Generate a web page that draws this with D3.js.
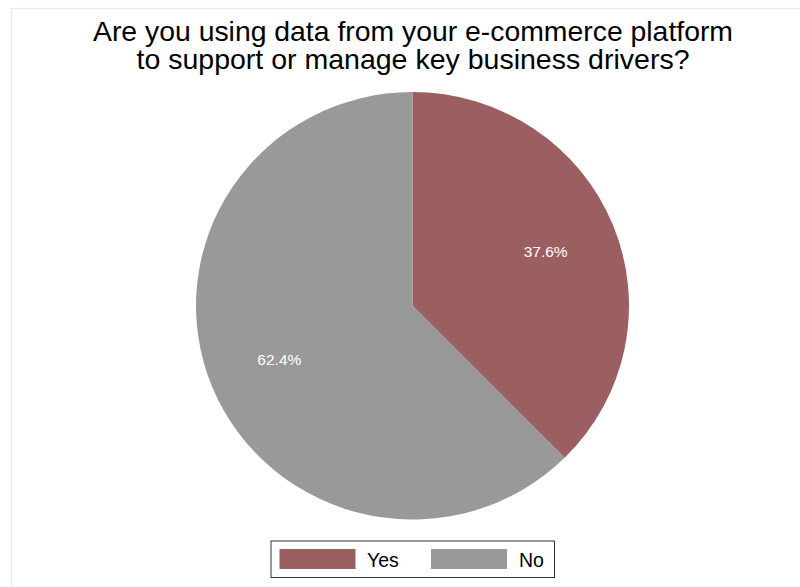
<!DOCTYPE html>
<html>
<head>
<meta charset="utf-8">
<script src="https://cdn.jsdelivr.net/npm/d3@7"></script>
<style>
  html, body { margin: 0; padding: 0; background: #fff; }
  svg { display: block; font-family: "Liberation Sans", Arial, Helvetica, sans-serif; }
</style>
</head>
<body>
<svg id="chart" width="800" height="587"></svg>
<script>
// Survey answers and their shares (percent)
const categories = ["Yes", "No"];
const shares = [37.6, 62.4];
const colors = ["#9c5f61", "#999999"];
const titleLines = [
  "Are you using data from your e-commerce platform",
  "to support or manage key business drivers?"
];

const svg = d3.select("#chart");

// thin outer frame of the graph region
svg.append("rect")
  .attr("x", 11.5).attr("y", 8.5)
  .attr("width", 800).attr("height", 600)
  .attr("fill", "none")
  .attr("stroke", "#e6eded")
  .attr("stroke-width", 1.2);

// title: two centred lines, set slightly wide to fill the header
const titleWidths = [640, 553];
svg.append("g").selectAll("text")
  .data(titleLines)
  .join("text")
  .attr("x", 413)
  .attr("y", (d, i) => 40.5 + i * 28.3)
  .attr("text-anchor", "middle")
  .attr("font-size", 27.8)
  .attr("textLength", (d, i) => titleWidths[i])
  .attr("lengthAdjust", "spacingAndGlyphs")
  .attr("fill", "#000")
  .text(d => d);

// pie
const cx = 412.5, cy = 305.75, rx = 216.5, ry = 213.75;
const data = categories.map((c, i) => ({ cat: c, value: shares[i], color: colors[i] }));
const pie = d3.pie().value(d => d.value).sort(null);
const arcs = pie(data);
const R = 100;
const arc = d3.arc().innerRadius(0).outerRadius(R);
const labelArc = d3.arc().innerRadius(R * 0.665).outerRadius(R * 0.665);

const g = svg.append("g")
  .attr("transform", `translate(${cx},${cy}) scale(${rx / R},${ry / R})`);
g.selectAll("path")
  .data(arcs)
  .join("path")
  .attr("d", arc)
  .attr("fill", d => d.data.color);

svg.append("g").selectAll("text")
  .data(arcs)
  .join("text")
  .attr("x", d => cx + labelArc.centroid(d)[0] * rx / R)
  .attr("y", d => cy + labelArc.centroid(d)[1] * ry / R + 5.5)
  .attr("text-anchor", "middle")
  .attr("font-size", 15.5)
  .attr("fill", "#fff")
  .text(d => d3.format(".1f")(d.data.value) + "%");

// legend
const legend = svg.append("g");
legend.append("rect")
  .attr("x", 271).attr("y", 541)
  .attr("width", 283.5).attr("height", 36.5)
  .attr("fill", "#fff")
  .attr("stroke", "#333")
  .attr("stroke-width", 1);
const swatchX = [279.5, 431];
const textX = [367, 519];
const items = legend.selectAll("g.item")
  .data(data)
  .join("g")
  .attr("class", "item");
items.append("rect")
  .attr("x", (d, i) => swatchX[i]).attr("y", 549)
  .attr("width", 76).attr("height", 20)
  .attr("fill", d => d.color);
items.append("text")
  .attr("x", (d, i) => textX[i]).attr("y", 566.5)
  .attr("font-size", 19.5)
  .attr("fill", "#000")
  .text(d => d.cat);
</script>
</body>
</html>
